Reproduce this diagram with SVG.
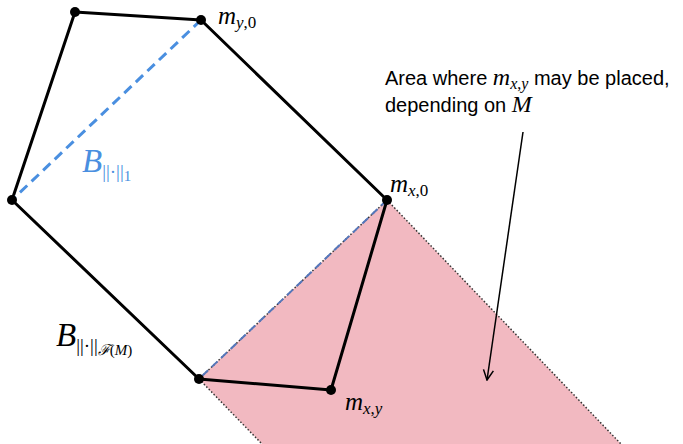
<svg xmlns="http://www.w3.org/2000/svg" width="683" height="444" viewBox="0 0 683 444">
<style>
.edge{stroke:#000;stroke-width:3;fill:none;stroke-linecap:round}
.blue{stroke:#4a8fe0;stroke-width:3;stroke-dasharray:10 6;fill:none}
.dot{fill:#000}
.math{font-family:"Liberation Serif",serif;font-style:italic;fill:#000}
.up{font-family:"Liberation Serif",serif;font-style:normal}
.sans{font-family:"Liberation Sans",Arial,sans-serif;font-size:20px;fill:#000}
</style>
<defs>
<marker id="open" viewBox="0 0 12 12" refX="11" refY="6" markerWidth="12" markerHeight="12" markerUnits="userSpaceOnUse" orient="auto">
<path d="M1,1 L11,6 L1,11" fill="none" stroke="#000" stroke-width="1.5"/>
</marker>
</defs>
<g id="region">
<polygon points="387,200 621,444 262,444 199,379" fill="#f2b9c1"/>
<line x1="387" y1="200" x2="621" y2="444" stroke="#333" stroke-width="1.5" stroke-dasharray="1.5 2"/>
<line x1="199" y1="379" x2="262" y2="444" stroke="#333" stroke-width="1.5" stroke-dasharray="1.5 2"/>
<line x1="387" y1="200" x2="199" y2="379" stroke="#333" stroke-width="1.5" stroke-dasharray="1.5 2"/>
</g>
<g id="connectors">
<line class="edge" x1="75" y1="12" x2="201" y2="20"/>
<line class="edge" x1="201" y1="20" x2="387" y2="200"/>
<line class="edge" x1="387" y1="200" x2="331" y2="390"/>
<line class="edge" x1="331" y1="390" x2="199" y2="379"/>
<line class="edge" x1="199" y1="379" x2="12" y2="200"/>
<line class="edge" x1="12" y1="200" x2="75" y2="12"/>
<line class="blue" x1="201" y1="20" x2="12" y2="200"/>
<line x1="387" y1="200" x2="199" y2="379" stroke="#5577bb" stroke-width="2" stroke-dasharray="8 5"/>
<line x1="523" y1="132" x2="487" y2="380" stroke="#000" stroke-width="1.5" marker-end="url(#open)"/>
</g>
<g id="n-top"><circle class="dot" cx="75" cy="12" r="5"/></g>
<g id="n-my0"><circle class="dot" cx="201" cy="20" r="5"/>
<text class="math" x="218" y="24" font-size="25">m<tspan font-size="17" dy="4">y</tspan><tspan class="up" font-size="17">,0</tspan></text></g>
<g id="n-left"><circle class="dot" cx="12" cy="200" r="5"/></g>
<g id="n-mx0"><circle class="dot" cx="387" cy="200" r="5"/>
<text class="math" x="390" y="192" font-size="25">m<tspan font-size="17" dy="4">x</tspan><tspan class="up" font-size="17">,0</tspan></text></g>
<g id="n-bottom"><circle class="dot" cx="199" cy="379" r="5"/></g>
<g id="n-mxy"><circle class="dot" cx="331" cy="390" r="5"/>
<text class="math" x="345" y="410" font-size="25">m<tspan font-size="17" dy="4">x</tspan><tspan class="up" font-size="17">,</tspan><tspan font-size="17">y</tspan></text></g>
<g id="label-b1">
<text class="math" x="82" y="172" font-size="33" style="fill:#4a8fe0">B<tspan class="up" font-size="19" dy="6">||·||</tspan><tspan class="up" font-size="15" dy="3">1</tspan></text>
</g>
<g id="label-bf">
<text class="math" x="56" y="346" font-size="33">B<tspan class="up" font-size="19" dy="6">||·||</tspan><tspan font-size="15" dy="3" font-family="Liberation Serif">ℱ</tspan><tspan class="up" font-size="15">(</tspan><tspan font-size="15">M</tspan><tspan class="up" font-size="15">)</tspan></text>
</g>
<g id="annotation">
<text class="sans" x="385" y="85">Area where <tspan class="math" font-size="24">m</tspan><tspan class="math" font-size="16" dy="4">x</tspan><tspan font-family="Liberation Serif" font-size="16">,</tspan><tspan class="math" font-size="16">y</tspan><tspan dy="-4"> may be placed,</tspan></text>
<text class="sans" x="385" y="112">depending on <tspan class="math" font-size="24">M</tspan></text>
</g>
</svg>
